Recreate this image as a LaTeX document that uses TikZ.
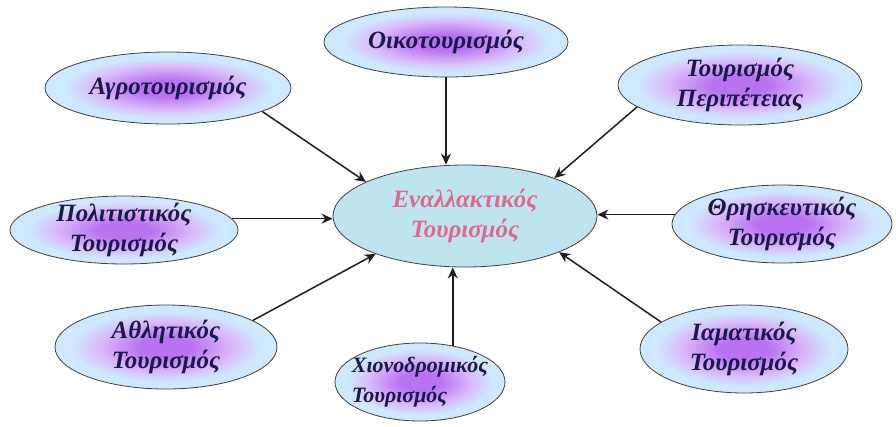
\documentclass[tikz,border=0pt]{standalone}
\usepackage{fontspec}
\setmainfont{Liberation Serif}
\usetikzlibrary{shapes.geometric,arrows.meta}
\definecolor{cin}{RGB}{185,115,240}
\definecolor{cmid}{RGB}{218,185,250}
\definecolor{cout}{RGB}{205,232,255}
\definecolor{navy}{RGB}{25,25,75}
\definecolor{pinktxt}{RGB}{222,105,140}
\definecolor{midfill}{RGB}{190,228,240}
\pgfdeclareradialshading{tourshade}{\pgfpoint{0bp}{0bp}}{color(0bp)=(cin); color(6bp)=(cin); color(15bp)=(cmid); color(21bp)=(cout); color(25bp)=(cout); color(50bp)=(cout)}
\tikzset{
  outer/.style={ellipse, draw=black!75, line width=0.8bp, inner sep=-14bp, shading=tourshade,
    align=center, text=navy, font=\bfseries\itshape\fontsize{25}{30}\selectfont},
  hub/.style={ellipse, draw=black!75, line width=0.8bp, inner sep=-14bp, fill=midfill,
    align=center, text=pinktxt, font=\bfseries\itshape\fontsize{25}{30}\selectfont},
  arr/.style={-{Stealth[length=11bp,width=10bp]}, line width=1.5bp, draw=black!88}
}
\begin{document}
\begin{tikzpicture}[x=1bp,y=-1bp]
\useasboundingbox (0,0) rectangle (896,426);
\node[hub, minimum width=264bp, minimum height=102bp] (mid) at (465,216) {Εναλλακτικός\\Τουρισμός};
\node[outer, minimum width=244bp, minimum height=70bp] (oiko) at (446,42) {Οικοτουρισμός};
\node[outer, minimum width=246bp, minimum height=72bp] (agro) at (168,88) {Αγροτουρισμός};
\node[outer, minimum width=244bp, minimum height=80bp] (peri) at (740,85) {Τουρισμός\\Περιπέτειας};
\node[outer, minimum width=228bp, minimum height=68bp] (poli) at (124,230) {Πολιτιστικός\\Τουρισμός};
\node[outer, minimum width=220bp, minimum height=78bp] (thri) at (782,224) {Θρησκευτικός\\Τουρισμός};
\node[outer, minimum width=222bp, minimum height=84bp] (athl) at (166,347) {Αθλητικός\\Τουρισμός};
\node[outer, align=left, font=\bfseries\itshape\fontsize{22}{30}\selectfont, minimum width=170bp, minimum height=78bp] (xion) at (420,382) {Χιονοδρομικός\\Τουρισμός};
\node[outer, minimum width=208bp, minimum height=88bp] (iama) at (744,349) {Ιαματικός\\Τουρισμός};
\draw[arr] (oiko.south) -- (oiko.south |- mid.north);
\draw[arr] (agro.-14) -- (mid.161);
\draw[arr] (peri.192) -- (mid.23);
\draw[arr] (poli.6) -- (poli.6 -| mid.west);
\draw[arr] (thri.175) -- (thri.175 -| mid.east);
\draw[arr] (athl.17) -- (mid.203);
\draw[arr] (xion.48) -- (xion.48 |- mid.south);
\draw[arr] (iama.162) -- (mid.-21);
\end{tikzpicture}
\end{document}
